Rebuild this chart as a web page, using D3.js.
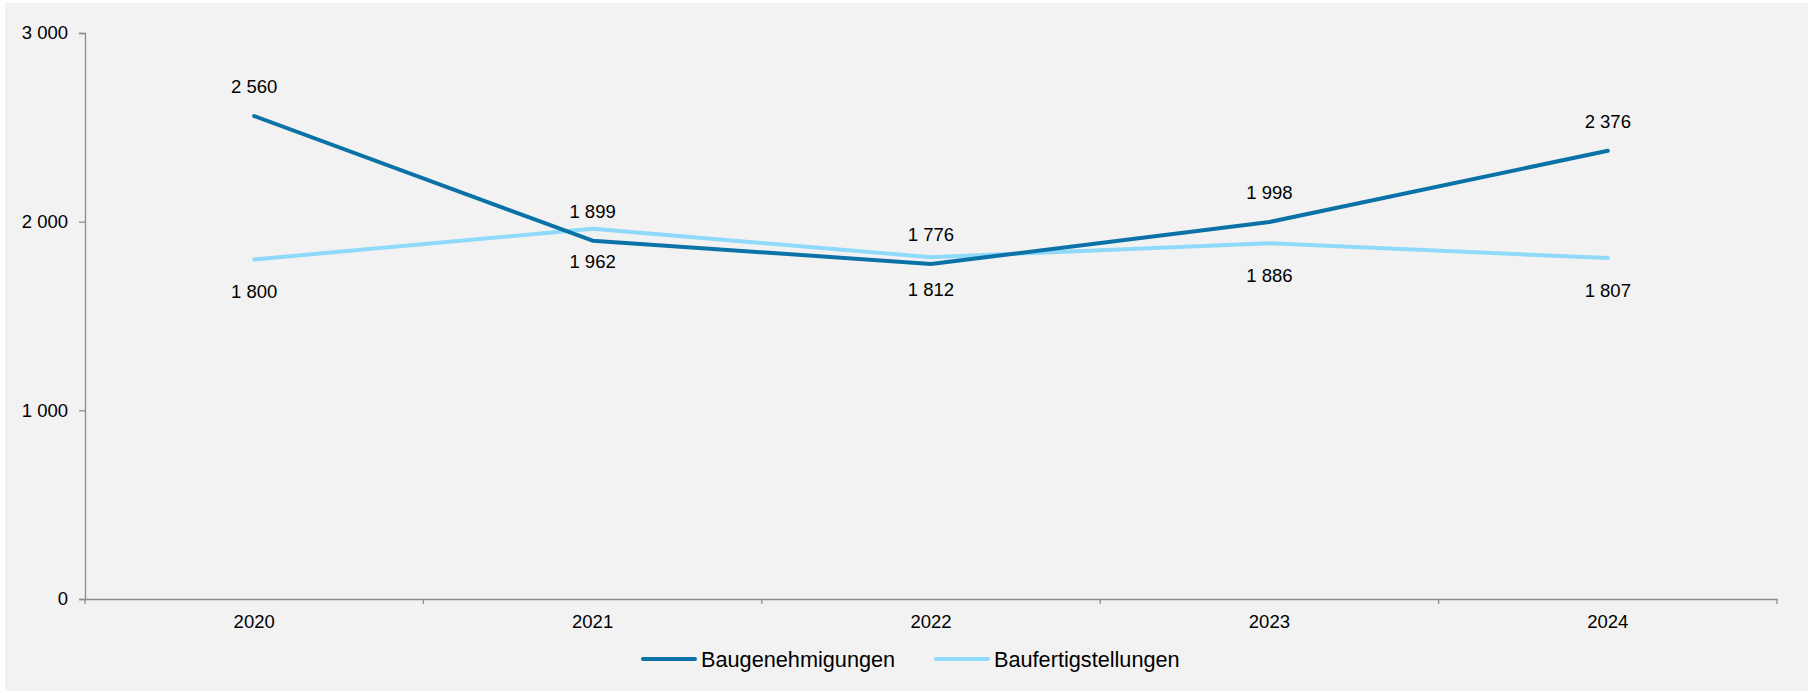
<!DOCTYPE html>
<html>
<head>
<meta charset="utf-8">
<script src="https://cdn.jsdelivr.net/npm/d3@7"></script>
<style>
	body { margin: 0; background: #ffffff; }
	svg { display: block; font-family: "Liberation Sans", Arial, sans-serif; }
</style>
</head>
<body>
<div class="chart"></div>
<script>
var years = ["2020", "2021", "2022", "2023", "2024"];
var genehmigungen = [2560, 1899, 1776, 1998, 2376];
var fertigstellungen = [1800, 1962, 1812, 1886, 1807];
var yTicks = [0, 1000, 2000, 3000];
var seriesNames = ["Baugenehmigungen", "Baufertigstellungen"];

var width = 1817;
var height = 693;

var svg = d3.select(".chart").append("svg")
	.attr("width", width)
	.attr("height", height);

// grey panel behind the chart
svg.append("rect")
	.attr("x", 5)
	.attr("y", 3)
	.attr("width", 1803)
	.attr("height", 688)
	.attr("fill", "#f2f2f2");

var x = d3.scaleBand()
	.domain(years)
	.range([85, 1777]);

var y = d3.scaleLinear()
	.domain([0, 3000])
	.range([599, 33]);

function fmt(v) {
	return d3.format(",")(v).replace(/,/g, " ");
}

// y axis
var yAxis = svg.append("g")
	.attr("transform", "translate(85,0)")
	.call(d3.axisLeft(y).tickValues(yTicks).tickSize(6).tickPadding(11).tickFormat(fmt));

// x axis
var xAxis = svg.append("g")
	.attr("transform", "translate(0,599)")
	.call(d3.axisBottom(x).tickSize(0).tickPadding(16));

// band boundary ticks
var bounds = years.map(function(d) { return x(d); }).concat([x.range()[1]]);
svg.append("g")
	.selectAll("line")
	.data(bounds)
	.enter().append("line")
	.attr("x1", function(d) { return d; })
	.attr("x2", function(d) { return d; })
	.attr("y1", 599)
	.attr("y2", 604)
	.attr("stroke", "#8c8c8c")
	.attr("stroke-width", 1.3);

[yAxis, xAxis].forEach(function(ax) {
	ax.select(".domain").attr("stroke", "#8c8c8c").attr("stroke-width", 1.3);
	ax.selectAll(".tick line").attr("stroke", "#8c8c8c").attr("stroke-width", 1.3);
	ax.selectAll("text")
		.attr("fill", "#000")
		.attr("font-size", 18.5)
		.attr("font-family", "Liberation Sans, Arial, sans-serif");
});

var series = [
	{ name: seriesNames[0], values: genehmigungen, color: "#0b72a8", labelDy: -23 },
	{ name: seriesNames[1], values: fertigstellungen, color: "#8fd9fb", labelDy: 39 }
];

var line = d3.line()
	.x(function(d, i) { return x(years[i]) + x.bandwidth() / 2; })
	.y(function(d) { return y(d); });

// light series first, dark drawn on top
[series[1], series[0]].forEach(function(s) {
	svg.append("path")
		.datum(s.values)
		.attr("fill", "none")
		.attr("stroke", s.color)
		.attr("stroke-width", 4)
		.attr("stroke-linecap", "round")
		.attr("stroke-linejoin", "round")
		.attr("d", line);
});

series.forEach(function(s) {
	svg.append("g")
		.selectAll("text")
		.data(s.values)
		.enter().append("text")
		.attr("x", function(d, i) { return x(years[i]) + x.bandwidth() / 2; })
		.attr("y", function(d) { return y(d) + s.labelDy; })
		.attr("text-anchor", "middle")
		.attr("font-size", 18.5)
		.attr("fill", "#000")
		.text(fmt);
});

// legend
var legendX = [643, 936];
series.forEach(function(s, i) {
	var g = svg.append("g").attr("transform", "translate(" + legendX[i] + ",659)");
	g.append("line")
		.attr("x1", 0)
		.attr("x2", 52)
		.attr("stroke", s.color)
		.attr("stroke-width", 4)
		.attr("stroke-linecap", "round");
	g.append("text")
		.attr("x", 58)
		.attr("y", 8)
		.attr("font-size", 21.7)
		.attr("fill", "#000")
		.text(s.name);
});
</script>
</body>
</html>
